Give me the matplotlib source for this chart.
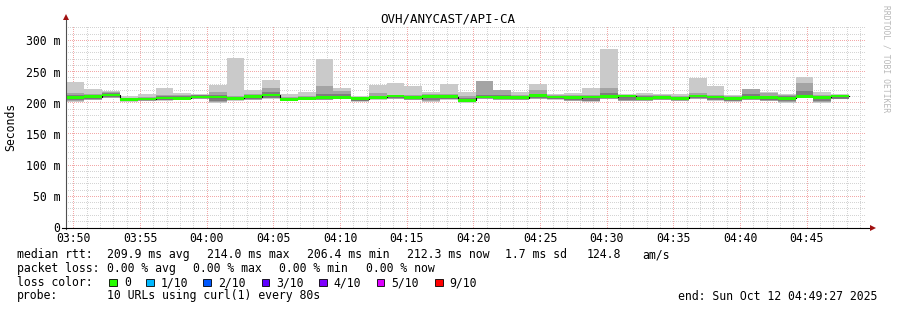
import numpy as np
import matplotlib
matplotlib.use('Agg')
import matplotlib.pyplot as plt
from matplotlib.transforms import blended_transform_factory as blend

W, H = 897, 310

# sorted rtt of the 10 probes per 80 s step, in ms
rtt_min = [202.6, 204.8, 208.0, 202.6, 203.7, 204.0, 204.8, 207.0, 201.0, 203.7, 205.0,
           207.0, 203.0, 205.0, 204.8, 206.4, 202.6, 205.8, 207.0, 205.0, 202.6, 205.8,
           201.0, 206.4, 204.8, 204.8, 207.0, 205.8, 203.7, 202.6, 207.0, 203.0, 203.7,
           204.8, 203.7, 206.4, 203.7, 202.6, 205.0, 203.7, 200.5, 208.0, 200.5, 206.4]
rtt_p2 = [204.0, 205.5, 208.5, 203.5, 204.5, 205.0, 205.5, 207.5, 202.0, 205.0, 206.0,
          208.0, 203.5, 205.5, 206.0, 207.0, 203.5, 206.5, 207.5, 206.0, 204.0, 206.5,
          202.0, 207.0, 205.5, 205.5, 207.5, 206.5, 204.5, 203.5, 207.5, 204.0, 204.5,
          205.5, 204.5, 207.0, 205.0, 203.5, 206.0, 204.5, 202.0, 208.5, 202.0, 207.0]
rtt_p3 = [206.0, 207.0, 209.5, 204.5, 205.5, 206.0, 206.5, 208.0, 204.0, 206.0, 207.0,
          209.0, 204.0, 206.0, 207.0, 208.0, 204.5, 207.0, 208.0, 207.0, 205.0, 207.0,
          203.0, 208.0, 206.5, 206.5, 208.0, 207.0, 205.5, 204.0, 208.5, 205.0, 205.5,
          206.5, 205.5, 208.0, 206.0, 204.5, 207.0, 205.5, 204.0, 209.5, 204.0, 207.5]
rtt_median = [209.6, 210.6, 213.3, 206.4, 207.0, 208.5, 208.0, 210.0, 210.0, 208.0, 210.6,
              213.3, 206.4, 208.0, 209.0, 209.6, 207.4, 209.6, 211.7, 209.0, 211.2, 210.6,
              205.0, 210.0, 209.6, 209.0, 212.2, 210.0, 209.0, 210.0, 210.6, 211.7, 208.0,
              209.0, 208.0, 211.7, 210.0, 208.0, 209.0, 209.0, 208.0, 211.2, 209.6, 211.7]
rtt_p8 = [214.0, 213.0, 216.0, 208.0, 209.0, 211.0, 211.0, 213.0, 214.0, 210.0, 213.0,
          218.0, 208.0, 210.0, 215.0, 215.0, 209.0, 212.0, 213.0, 211.0, 213.0, 213.0,
          208.0, 213.0, 213.0, 211.0, 215.0, 212.0, 212.0, 212.0, 216.0, 213.0, 212.0,
          212.0, 210.0, 214.0, 212.0, 210.0, 215.0, 212.0, 211.0, 220.0, 212.0, 213.0]
rtt_p9 = [216.0, 215.0, 218.0, 209.0, 210.0, 213.0, 213.0, 214.0, 218.0, 212.0, 215.0,
          224.0, 210.0, 212.0, 228.0, 219.0, 210.0, 216.0, 214.0, 213.0, 215.0, 215.0,
          212.0, 235.0, 221.0, 213.0, 222.0, 213.0, 214.0, 214.0, 225.0, 214.0, 214.0,
          213.0, 212.0, 216.0, 214.0, 211.0, 223.0, 216.0, 213.0, 232.0, 214.0, 214.0]
rtt_max = [234.7, 223.0, 219.7, 211.0, 215.0, 225.0, 216.5, 214.4, 229.4, 273.0, 221.0,
           237.9, 214.4, 218.7, 271.6, 225.0, 211.7, 229.4, 232.6, 228.3, 218.7, 231.0,
           217.6, 235.8, 221.0, 217.6, 231.0, 214.4, 216.5, 225.0, 287.6, 215.0, 216.0,
           214.4, 214.4, 241.0, 228.3, 213.3, 223.0, 218.0, 214.4, 242.2, 218.7, 214.4]

tick_labels = ['03:50', '03:55', '04:00', '04:05', '04:10', '04:15',
               '04:20', '04:25', '04:30', '04:35', '04:40', '04:45']
y_ticks = [0, 50, 100, 150, 200, 250, 300]
y_tick_labels = ['0', '50 m', '100 m', '150 m', '200 m', '250 m', '300 m']
loss_labels = ['0', '1/10', '2/10', '3/10', '4/10', '5/10', '9/10']
loss_colors = ['#26ff00', '#00b8ff', '#0059ff', '#5e00ff', '#7e00ff', '#dd00ff', '#ff0000']

STEP = 80          # seconds per bar
FIRST = -30        # first bar start, seconds after 03:50
MONO = 'DejaVu Sans Mono'
FS = 8.3
XMIN, XMAX, YMAX = -33, 3567, 324
AX_W, AX_H = 800, 202   # plot area in pixels


def fx(px):
    return px / W


def fy(py):
    return 1 - py / H


fig = plt.figure(figsize=(W / 100, H / 100), dpi=100)
fig.patch.set_facecolor('white')
ax = fig.add_axes([fx(66), fy(228), AX_W / W, AX_H / H])
ax.set_xlim(XMIN, XMAX)
ax.set_ylim(0, YMAX)
ax.axis('off')

# dotted grid (one pixel on, one off), behind the smoke
dy = 2 * YMAX / AX_H
dx = 2 * (XMAX - XMIN) / AX_W
ys = np.arange(0, YMAX, dy)
xs = np.arange(XMIN, XMAX, dx)
for t in range(0, XMAX, 60):
    c = '#f2a8a8' if t % 300 == 0 else '#d4d4d4'
    ax.plot(np.full_like(ys, t), ys, ',', color=c, zorder=0.5)
for v in range(10, YMAX, 10):
    c = '#f2a8a8' if v % 50 == 0 else '#d4d4d4'
    ax.plot(xs, np.full_like(xs, v), ',', color=c, zorder=0.5)

n = len(rtt_median)
x = FIRST + STEP * np.arange(n)
lo = [np.array(rtt_min), np.array(rtt_p2), np.array(rtt_p3)]
hi = [np.array(rtt_max), np.array(rtt_p9), np.array(rtt_p8)]
smoke = ['#cacaca', '#a4a4a4', '#7e7e7e']
for l, h, c in zip(lo, hi, smoke):
    ax.bar(x, h - l, bottom=l, width=STEP, align='edge', color=c, lw=0, zorder=1)

med = np.array(rtt_median)
edges = np.append(x, x[-1] + STEP)
ax.step(edges, np.append(med, med[-1]), where='post', color='black', lw=0.8, zorder=2)
ax.bar(x, 4.4, bottom=med - 2.2, width=STEP, align='edge', color=loss_colors[0], lw=0, zorder=3)

# axes with arrows
ax.plot([XMIN, XMIN], [-1.5, 336], color='#505050', lw=0.8, clip_on=False, zorder=5)
ax.plot([-51, 3590], [0, 0], color='black', lw=0.8, clip_on=False, zorder=5)
ax.plot([XMIN], [338], marker='^', ms=4, color='#a01010', mew=0, clip_on=False, zorder=6)
ax.plot([3598], [0], marker='>', ms=4, color='#a01010', mew=0, clip_on=False, zorder=6)

tx = blend(ax.transData, fig.transFigure)
for i, lab in enumerate(tick_labels):
    ax.text(300 * i, fy(241.5), lab, transform=tx, ha='center', va='baseline',
            family=MONO, fontsize=FS)
ty = blend(fig.transFigure, ax.transData)
for v, lab in zip(y_ticks, y_tick_labels):
    ax.text(fx(60), v + 1, lab, transform=ty, ha='right', va='center_baseline',
            family=MONO, fontsize=FS)

fig.text(fx(448), fy(19), 'OVH/ANYCAST/API-CA', ha='center', va='center', family=MONO, fontsize=9)
fig.text(fx(11), fy(127), 'Seconds', ha='center', va='center', rotation=90, family=MONO, fontsize=FS)
fig.text(fx(886), fy(59), 'RRDTOOL / TOBI OETIKER', ha='center', va='center', rotation=270,
         family=MONO, fontsize=5.8, color='#b8b8b8')


# legend lines under the graph
def put(px, py, s):
    fig.text(fx(px), fy(py), s, ha='left', va='baseline', family=MONO, fontsize=FS)


put(16.7, 258, 'median rtt:')
for px, s in zip([107, 207.3, 306.7, 406.7, 505, 586.7, 642.7],
                 ['209.9 ms avg', '214.0 ms max', '206.4 ms min', '212.3 ms now',
                  '1.7 ms sd', '124.8', 'am/s']):
    put(px, 258, s)
put(16.7, 272, 'packet loss:')
for px, s in zip([107, 193.3, 279.3, 365.7],
                 ['0.00 % avg', '0.00 % max', '0.00 % min', '0.00 % now']):
    put(px, 272, s)
put(16.7, 286, 'loss color:')
sq_x = [109.3, 146, 203.3, 261.7, 319, 376.7, 435]
for px, lab, c in zip(sq_x, loss_labels, loss_colors):
    fig.patches.append(plt.Rectangle((fx(px), fy(286)), 7.5 / W, 7.5 / H, transform=fig.transFigure,
                                     facecolor=c, edgecolor='black', lw=0.6))
    put(px + 14.5, 286, lab)
put(16.7, 299.5, 'probe:')
put(107, 299.5, '10 URLs using curl(1) every 80s')
put(678.3, 299.5, 'end: Sun Oct 12 04:49:27 2025')

fig.savefig('out.png', dpi=100, facecolor='white')
